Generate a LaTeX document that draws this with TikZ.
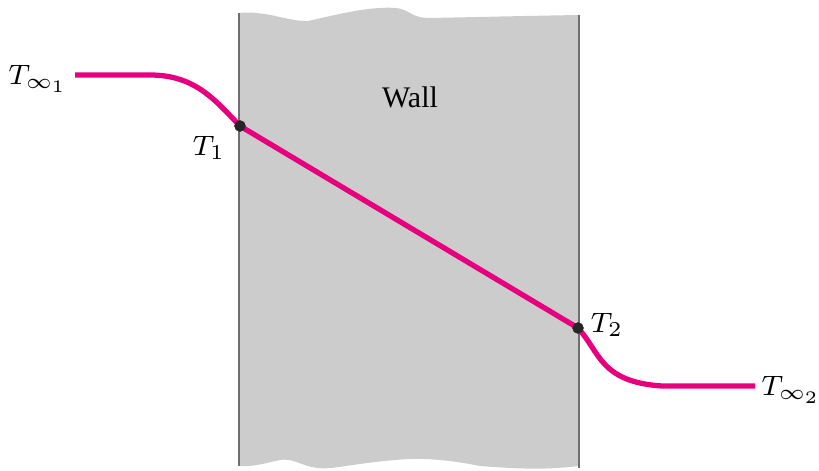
\documentclass[tikz,border=0pt]{standalone}
\usepackage{fontspec}
\setmainfont{Liberation Serif}
\usetikzlibrary{calc,positioning}
\definecolor{wallgray}{RGB}{204,204,204}
\definecolor{edgegray}{RGB}{110,110,110}
\definecolor{templine}{RGB}{230,0,126}

\begin{document}
\begin{tikzpicture}[x=0.01cm, y=-0.01cm, font=\fontsize{8.5}{10}\selectfont,
    wallside/.style={edgegray, line width=0.8pt},
    profile/.style={templine, line width=1.5pt},
    tdot/.style={circle, fill=black!85, inner sep=0pt, minimum size=3.2pt}]

  \useasboundingbox (0,0) rectangle (819,470);

  % --- Wall (gray slab with wavy cut edges) ---
  \fill[wallgray] (239,13) .. controls (265,10) and (290,22) .. (308,21)
    .. controls (335,15) and (370,6) .. (395,8)
    .. controls (410,9) and (410,18) .. (430,18)
    .. controls (480,17) and (520,16) .. (579,15)
    -- (579,466)
    .. controls (545,470) and (520,469) .. (480,466)
    .. controls (440,458) and (415,458) .. (395,460)
    .. controls (350,464) and (330,470) .. (318,468)
    .. controls (300,466) and (295,458) .. (280,460)
    .. controls (265,463) and (255,467) .. (239,466) -- cycle;
  \draw[wallside] (239,13) -- (239,466);
  \draw[wallside] (579,15) -- (579,468);
  \node (wall) at (410,97) {Wall};

  % --- Temperature profile ---
  \coordinate (start) at (75,75);
  \coordinate (stop) at (755,386);
  \node[tdot] (T1) at (240,126) {};
  \node[tdot] (T2) at (578,328) {};

  \draw[profile] (start) -- (150,75) .. controls (195,75) and (215,100) .. (T1.center);
  \draw[profile] (T1.center) -- (T2.center);
  \draw[profile] (T2.center) .. controls (600,352) and (600,382) .. (662,386) -- (stop);
  \node[tdot] at (T1) {};
  \node[tdot] at (T2) {};

  % --- Labels ---
  \node at (38,79) (tinf1) {$T_{\infty_1}$};
  \node at (209,148) (t1) {$T_1$};
  \node at (607,325) (t2) {$T_2$};
  \node at (791,390) (tinf2) {$T_{\infty_2}$};

\end{tikzpicture}
\end{document}
